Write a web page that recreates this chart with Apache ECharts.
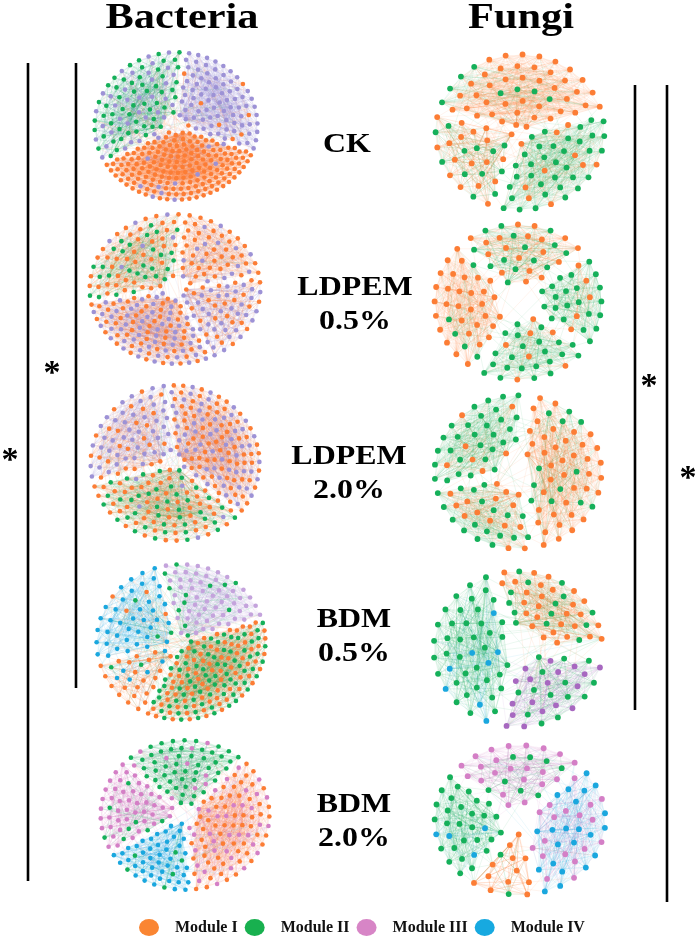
<!DOCTYPE html>
<html>
<head>
<meta charset="utf-8">
<script src="https://cdn.jsdelivr.net/npm/echarts@6/dist/echarts.min.js"></script>
<style>
  html, body { margin: 0; padding: 0; background: #fff; }
  #chart { width: 699px; height: 937px; }
</style>
</head>
<body>
<div id="chart"></div>
<script>
const moduleNames = ['Module I', 'Module II', 'Module III', 'Module IV'];
const columnTitles = ['Bacteria', 'Fungi'];
const rowLabels = ['CK', 'LDPEM\n0.5%', 'LDPEM\n2.0%', 'BDM\n0.5%', 'BDM\n2.0%'];

// one row per module sector of a network:
// [from deg, to deg, inner radius, Module I, Module II, Module III, Module IV] (node counts)
const bacteriaCK = [
  [85, 210, 0.1, 0, 55, 35, 0],
  [-20, 85, 0.1, 8, 0, 80, 0],
  [210, 340, 0.07, 170, 0, 12, 0]
];
const bacteriaLDPEM05 = [
  [85, 190, 0.08, 40, 28, 6, 0],
  [10, 85, 0.1, 40, 0, 15, 0],
  [-65, 10, 0.1, 25, 0, 35, 0],
  [190, 295, 0.08, 55, 0, 55, 0]
];
const bacteriaLDPEM20 = [
  [95, 195, 0.1, 25, 0, 45, 0],
  [-40, 95, 0.08, 75, 0, 55, 0],
  [195, 320, 0.08, 50, 40, 5, 0]
];
const bacteriaBDM05 = [
  [105, 195, 0.12, 4, 3, 0, 40],
  [195, 245, 0.12, 22, 2, 0, 6],
  [18, 105, 0.1, 0, 12, 55, 0],
  [245, 378, 0.07, 80, 75, 0, 0]
];
const bacteriaBDM20 = [
  [48, 135, 0.1, 0, 50, 10, 0],
  [135, 210, 0.1, 0, 8, 45, 0],
  [210, 275, 0.1, 0, 6, 0, 45],
  [275, 408, 0.08, 60, 0, 35, 0]
];
const fungiCK = [
  [15, 165, 0.08, 42, 8, 0, 0],
  [165, 255, 0.1, 18, 12, 0, 0],
  [255, 375, 0.08, 10, 35, 0, 0]
];
const fungiLDPEM05 = [
  [133, 240, 0.26, 32, 5, 0, 0],
  [40, 132, 0.2, 18, 14, 0, 0],
  [-34, 38, 0.28, 5, 22, 0, 0],
  [242, 324, 0.2, 7, 22, 0, 0]
];
const fungiLDPEM20 = [
  [86, 192, 0.2, 7, 30, 0, 0],
  [-76, 82, 0.18, 40, 12, 0, 0],
  [192, 282, 0.18, 15, 18, 0, 0]
];
const fungiBDM05 = [
  [108, 256, 0.22, 0, 38, 0, 8],
  [4, 106, 0.2, 28, 14, 0, 0],
  [258, 354, 0.22, 0, 14, 18, 0]
];
const fungiBDM20 = [
  [46, 141, 0.18, 0, 8, 22, 0],
  [141, 233, 0.2, 0, 28, 0, 4],
  [233, 283, 0.18, 12, 2, 0, 0],
  [283, 406, 0.18, 0, 0, 18, 22]
];

const ORANGE = '#fc7d35', GREEN = '#15b05a', BLUE = '#1aa7de';
const LAVENDER = '#9d92d6', LILAC = '#c4a3dc', PINK = '#d47fc6', VIOLET = '#a768c0';
const legendColors = ['#fa8532', '#18b04f', '#d785c6', '#17a9e0'];

const BAC_LINKS = [3, 8, 17, 29, 43, 61];
const FUN_LINKS = [2, 3, 5, 7, 11, 13, 17, 19, 23, 29];

const panels = [
  { sectors: bacteriaCK, center: [176, 126], radius: [84, 76], m3: LAVENDER, size: 4.6, edge: 0.2, hops: BAC_LINKS },
  { sectors: bacteriaLDPEM05, center: [175, 289], radius: [88, 77], m3: LAVENDER, size: 4.6, edge: 0.2, hops: BAC_LINKS },
  { sectors: bacteriaLDPEM20, center: [175, 463], radius: [87, 80], m3: LAVENDER, size: 4.6, edge: 0.2, hops: BAC_LINKS },
  { sectors: bacteriaBDM05, center: [181, 642], radius: [87, 80], m3: LILAC, size: 4.6, edge: 0.2, hops: BAC_LINKS },
  { sectors: bacteriaBDM20, center: [185, 815], radius: [87, 77], m3: PINK, size: 4.6, edge: 0.2, hops: BAC_LINKS },
  { sectors: fungiCK, center: [520, 132], radius: [87, 80], m3: PINK, size: 5.8, edge: 0.17, hops: FUN_LINKS },
  { sectors: fungiLDPEM05, center: [518, 302], radius: [86, 80], m3: PINK, size: 5.8, edge: 0.17, hops: FUN_LINKS },
  { sectors: fungiLDPEM20, center: [518, 472], radius: [86, 79], m3: PINK, size: 5.8, edge: 0.17, hops: FUN_LINKS },
  { sectors: fungiBDM05, center: [518, 649], radius: [87, 80], m3: VIOLET, size: 5.8, edge: 0.17, hops: FUN_LINKS },
  { sectors: fungiBDM20, center: [520, 820], radius: [88, 77], m3: PINK, size: 5.8, edge: 0.17, hops: FUN_LINKS }
];

function gcd(a, b) { return b ? gcd(b, a % b) : a; }

// place each sector's nodes on rings inside its wedge, then link them
function buildNetwork(sectors, hops) {
  const nodes = [], links = [], starts = [];
  sectors.forEach(sec => {
    const a0 = sec[0] * Math.PI / 180;
    const span = (sec[1] - sec[0]) * Math.PI / 180;
    const r0 = sec[2];
    const counts = sec.slice(3);
    const n = counts.reduce((a, b) => a + b, 0);
    const s = Math.sqrt(0.5 * span * (1 - r0 * r0) / n);
    const rings = [];
    let cap = 0;
    for (let r = 0.97; r > r0; r -= s * 0.9) {
      const k = Math.max(1, Math.round(span * r / s));
      rings.push({ r, k });
      cap += k;
    }
    // module sequence spreading each module over the sector
    const order = [], given = counts.map(() => 0);
    for (let t = 0; t < n; t++) {
      let best = 0, bd = -Infinity;
      counts.forEach((c, m) => {
        const d = c * (t + 1) / n - given[m];
        if (c > 0 && d > bd) { bd = d; best = m; }
      });
      given[best]++;
      order.push(best);
    }
    let stride = Math.round(n * 0.382) | 1;
    while (gcd(stride, n) !== 1) stride++;
    const base = nodes.length;
    starts.push(base);
    let cum = 0, p = 0;
    rings.forEach((ring, i) => {
      const prev = Math.round(cum * n / cap);
      cum += ring.k;
      const m = Math.round(cum * n / cap) - prev;
      for (let j = 0; j < m; j++) {
        const a = a0 + span * (j + 0.5 + (i % 2 ? 0.15 : -0.15)) / m;
        nodes.push({
          value: [ring.r * Math.cos(a), ring.r * Math.sin(a)],
          category: order[(p * stride) % n]
        });
        p++;
      }
    });
    const cnt = nodes.length - base;
    for (let q = 0; q < cnt; q++) {
      hops.forEach(k => {
        const t = (q + k) % cnt;
        if (t !== q) links.push({ source: base + q, target: base + t });
      });
      if (q % 2 === 0 && q !== cnt - 1) links.push({ source: base + q, target: base + cnt - 1 });
      if (q % 3 === 0 && q !== cnt - 2) links.push({ source: base + q, target: base + cnt - 2 });
    }
  });
  // sparse links between neighbouring modules
  starts.forEach((b, i) => {
    const e = i + 1 < starts.length ? starts[i + 1] : nodes.length;
    const j = (i + 1) % starts.length;
    const nb = starts[j];
    const ne = j + 1 < starts.length ? starts[j + 1] : nodes.length;
    const size2 = Math.max(1, ne - nb);
    for (let q = b; q < e; q += 3) {
      links.push({ source: q, target: nb + ((q - b) * 7) % size2 });
    }
  });
  return { nodes, links };
}

const grids = [], xAxes = [], yAxes = [], series = [];
panels.forEach((pn, i) => {
  const [cx, cy] = pn.center, [rx, ry] = pn.radius;
  grids.push({ left: cx - rx, top: cy - ry, width: 2 * rx, height: 2 * ry });
  xAxes.push({ type: 'value', gridIndex: i, min: -1, max: 1, show: false });
  yAxes.push({ type: 'value', gridIndex: i, min: -1, max: 1, show: false });
  const net = buildNetwork(pn.sectors, pn.hops);
  const palette = [ORANGE, GREEN, pn.m3, BLUE];
  series.push({
    type: 'graph',
    coordinateSystem: 'cartesian2d',
    xAxisIndex: i,
    yAxisIndex: i,
    layout: 'none',
    symbol: 'circle',
    symbolSize: pn.size,
    categories: moduleNames.map((name, m) => ({ name, itemStyle: { color: palette[m] } })),
    data: net.nodes,
    links: net.links,
    lineStyle: { color: 'source', opacity: pn.edge, width: 0.5, curveness: 0 },
    emphasis: { disabled: true },
    silent: true,
    animation: false
  });
});

const serif = '"Liberation Serif", "Times New Roman", serif';
const graphics = [];
columnTitles.forEach((t, i) => {
  graphics.push({
    type: 'text', x: i === 0 ? 182 : 521, y: 19, scaleX: 1.21,
    style: { text: t, fontFamily: serif, fontWeight: 'bold', fontSize: 35, fill: '#000',
      textAlign: 'center', textVerticalAlign: 'middle' }
  });
});
const labelX = [347, 355, 349, 354, 354];
const labelY = [145, 305, 474, 637, 822];
rowLabels.forEach((t, i) => {
  graphics.push({
    type: 'text', x: labelX[i], y: labelY[i], scaleX: 1.14,
    style: { text: t, fontFamily: serif, fontWeight: 'bold', fontSize: 28, lineHeight: 34, fill: '#000',
      textAlign: 'center', textVerticalAlign: 'middle' }
  });
});
// significance brackets
const bars = [[28, 63, 881], [76, 63, 688], [635, 85, 710], [667, 85, 902]];
bars.forEach(b => {
  graphics.push({ type: 'line', shape: { x1: b[0], y1: b[1], x2: b[0], y2: b[2] },
    style: { stroke: '#000', lineWidth: 2.6 } });
});
const stars = [[10, 455], [52, 368], [649, 381], [688, 473]];
stars.forEach(s => {
  graphics.push({
    type: 'text', x: s[0], y: s[1] + 6,
    style: { text: '*', fontFamily: serif, fontWeight: 'bold', fontSize: 34, fill: '#000',
      textAlign: 'center', textVerticalAlign: 'middle' }
  });
});

const chart = echarts.init(document.getElementById('chart'));
chart.setOption({
  backgroundColor: '#fff',
  animation: false,
  grid: grids,
  xAxis: xAxes,
  yAxis: yAxes,
  legend: {
    left: 134,
    top: 914,
    itemWidth: 20,
    itemHeight: 17,
    itemGap: 7,
    selectedMode: false,
    icon: 'path://M0,8.5A10,8.5 0 1,1 20,8.5A10,8.5 0 1,1 0,8.5Z',
    textStyle: { fontFamily: serif, fontWeight: 'bold', fontSize: 16, color: '#111', padding: [0, 0, 0, 11] },
    data: moduleNames.map((name, m) => ({ name, itemStyle: { color: legendColors[m] } }))
  },
  graphic: graphics,
  series: series
});
</script>
</body>
</html>
